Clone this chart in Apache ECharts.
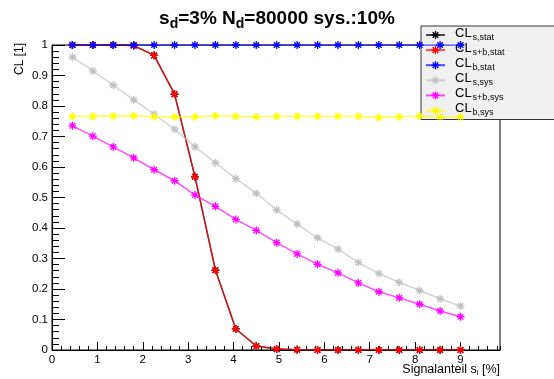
<!DOCTYPE html>
<html><head><meta charset="utf-8">
<script src="https://cdn.jsdelivr.net/npm/echarts@6/dist/echarts.min.js"></script>
<style>html,body{margin:0;padding:0;background:#fff}#c{width:554px;height:379px}</style>
</head><body><div id="c"></div>
<script>
const xValues = [0.45,0.9,1.35,1.8,2.25,2.7,3.15,3.6,4.05,4.5,4.95,5.4,5.85,6.3,6.75,7.2,7.65,8.1,8.55,9.0];
const clSStat  = [1.0,1.0,1.0,0.998,0.966,0.839,0.568,0.262,0.069,0.013,0.003,0.001,0,0,0,0,0,0,0,0];
const clSBStat = [1.0,1.0,1.0,0.998,0.966,0.839,0.568,0.262,0.069,0.013,0.003,0.001,0,0,0,0,0,0,0,0];
const clBStat  = [1,1,1,1,1,1,1,1,1,1,1,1,1,1,1,1,1,1,1,1];
const clSSys   = [0.960,0.915,0.868,0.820,0.773,0.724,0.666,0.614,0.562,0.514,0.459,0.413,0.368,0.331,0.287,0.251,0.222,0.195,0.168,0.144];
const clSBSys  = [0.735,0.701,0.666,0.630,0.591,0.555,0.508,0.471,0.428,0.392,0.352,0.315,0.281,0.253,0.220,0.191,0.171,0.150,0.128,0.109];
const clBSys   = [0.766,0.766,0.767,0.768,0.765,0.765,0.765,0.768,0.766,0.765,0.766,0.766,0.766,0.766,0.766,0.762,0.765,0.767,0.765,0.765];
const seriesNames = ['CL_s,stat','CL_s+b,stat','CL_b,stat','CL_s,sys','CL_s+b,sys','CL_b,sys'];
const legendSubs = ['s,stat','s+b,stat','b,stat','s,sys','s+b,sys','b,sys'];
const seriesValues = [clSStat, clSBStat, clBStat, clSSys, clSBSys, clBSys];
const seriesColors = ['#000000','#ff0000','#0000ff','#c0c0c0','#ff00ff','#ffff00'];

const FONT = 'Liberation Sans, Arial, Helvetica, sans-serif';
const STAR = 'path://M-1.3,-8L1.3,-8L1.3,8L-1.3,8Z M-8,-1.3L8,-1.3L8,1.3L-8,1.3Z M-4.74,-6.58L6.58,4.74L4.74,6.58L-6.58,-4.74Z M6.58,-4.74L-4.74,6.58L-6.58,4.74L4.74,-6.58Z';

const chart = echarts.init(document.getElementById('c'), null, {renderer:'canvas'});
const option = {
  animation: false,
  backgroundColor: '#ffffff',
  title: {
    text: '{n|s}{s|d}{n|=3% N}{s|d}{n|=80000 sys.:10%}',
    left: 'center', top: 9, padding: 0,
    textStyle: {
      rich: {
        n: {fontSize: 19, fontFamily: FONT, color: '#000', lineHeight: 20},
        s: {fontSize: 14, fontFamily: FONT, color: '#000', lineHeight: 14, padding: [10,0,0,0]}
      }
    }
  },
  legend: {
    orient: 'vertical', left: 421, top: 26,
    padding: [0.5, 90, 0.5, 4],
    itemWidth: 19, itemHeight: 10, itemGap: -1.9,
    backgroundColor: '#f0f0f0', borderColor: '#333', borderWidth: 1,
    data: seriesNames,
    formatter: function (name) {
      const i = seriesNames.indexOf(name);
      return '{n|CL}{s|' + legendSubs[i] + '}';
    },
    textStyle: {
      padding: [0,0,0,5],
      rich: {
        n: {fontSize: 13, fontFamily: FONT, color: '#000', lineHeight: 10, padding: [0,0,4,0]},
        s: {fontSize: 9, fontFamily: FONT, color: '#000', lineHeight: 9, padding: [5,0,0,1]}
      }
    }
  },
  grid: {left: 52, right: 54, top: 45, bottom: 29, show: true, borderColor: '#000', borderWidth: 1, backgroundColor: 'transparent', outerBoundsMode: 'none'},
  xAxis: [
    {
      type: 'value', min: 0, max: 9.87, interval: 1, position: 'bottom',
      axisLine: {show: true, lineStyle: {color: '#000', width: 1}},
      axisTick: {show: true, inside: true, length: 8, lineStyle: {color: '#000'}},
      axisLabel: {fontSize: 11.5, fontFamily: FONT, color: '#000', margin: 4, showMaxLabel: false},
      splitLine: {show: false}
    },
    {
      type: 'value', min: 0, max: 9.87, interval: 0.2, position: 'bottom', offset: 0,
      axisLine: {show: false},
      axisTick: {show: true, inside: true, length: 4, lineStyle: {color: '#000'}},
      axisLabel: {show: false},
      splitLine: {show: false}
    }
  ],
  yAxis: {
    type: 'value', min: 0, max: 1, interval: 0.1,
    axisLine: {show: true, lineStyle: {color: '#000', width: 1}},
    axisTick: {show: true, inside: true, length: 13, lineStyle: {color: '#000'}},
    minorTick: {show: true, splitNumber: 5, length: 7, lineStyle: {color: '#000'}},
    axisLabel: {fontSize: 11.5, fontFamily: FONT, color: '#000', margin: 4},
    splitLine: {show: false}
  },
  graphic: [
    {
      type: 'text', right: 54, top: 363,
      style: {
        text: '{n|Signalanteil s}{s|i}{n| [%]}',
        rich: {
          n: {fontSize: 12.5, fontFamily: FONT, fill: '#000', lineHeight: 14},
          s: {fontSize: 8, fontFamily: FONT, fill: '#000', lineHeight: 8, padding: [6,0,0,0]}
        }
      }
    },
    {
      type: 'text', x: 20, y: 59, rotation: Math.PI / 2,
      style: {text: 'CL [1]', fontSize: 12, fontFamily: FONT, fill: '#000', align: 'center', verticalAlign: 'middle'}
    }
  ],
  series: seriesNames.map((name, k) => ({
    type: 'line', name: name, xAxisIndex: 0,
    data: xValues.map((x, i) => [x, seriesValues[k][i]]),
    symbol: STAR, symbolSize: 8, showSymbol: true, showAllSymbol: true,
    lineStyle: {color: seriesColors[k], width: 1.5, opacity: 0.7},
    itemStyle: {color: seriesColors[k]},
    emphasis: {disabled: true},
    z: 2 + k
  }))
};
chart.setOption(option);
</script>
</body></html>
